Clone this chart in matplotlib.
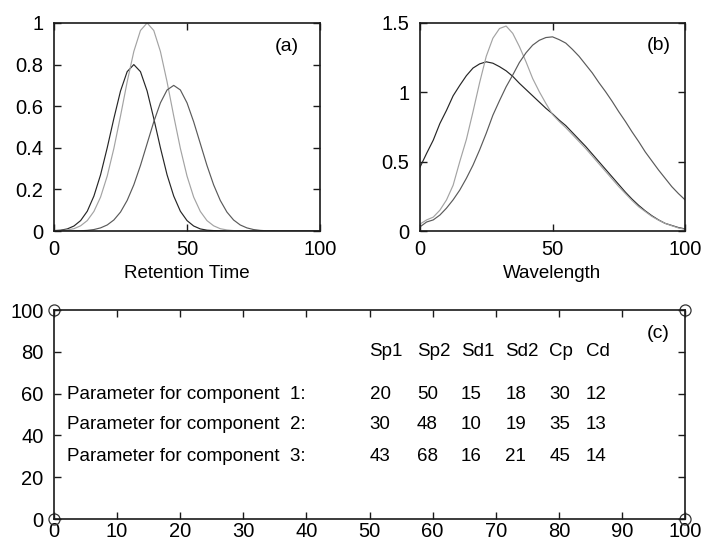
"""
Simulated three-component data: elution profiles, spectra and the
parameter table used to build them.
"""

import numpy as np
import matplotlib.pyplot as plt

plt.rcParams["font.family"] = ["Liberation Sans", "DejaVu Sans"]
plt.rcParams["font.size"] = 13.5

# sampling grid shared by both profile panels
grid = np.arange(0, 100.1, 2.5)

# elution profiles (a)
elution_1 = [0.002, 0.004, 0.010, 0.024, 0.050, 0.095, 0.168, 0.270, 0.400, 0.541,
             0.673, 0.766, 0.800, 0.766, 0.673, 0.541, 0.400, 0.270, 0.168, 0.095,
             0.050, 0.024, 0.010, 0.004, 0.002, 0.001, 0, 0, 0, 0,
             0, 0, 0, 0, 0, 0, 0, 0, 0, 0, 0]
elution_2 = [0.001, 0.002, 0.005, 0.011, 0.025, 0.050, 0.094, 0.163, 0.264, 0.397,
             0.553, 0.717, 0.863, 0.964, 1.000, 0.964, 0.863, 0.717, 0.553, 0.397,
             0.264, 0.163, 0.094, 0.050, 0.025, 0.011, 0.005, 0.002, 0.001, 0,
             0, 0, 0, 0, 0, 0, 0, 0, 0, 0, 0]
elution_3 = [0, 0, 0, 0.001, 0.001, 0.003, 0.007, 0.015, 0.029, 0.053,
             0.091, 0.147, 0.222, 0.315, 0.420, 0.525, 0.616, 0.678, 0.700, 0.678,
             0.616, 0.525, 0.420, 0.315, 0.222, 0.147, 0.091, 0.053, 0.029, 0.015,
             0.007, 0.003, 0.001, 0.001, 0, 0, 0, 0, 0, 0, 0]

# spectra (b)
spectrum_1 = [0.46, 0.56, 0.655, 0.775, 0.87, 0.975, 1.05, 1.12, 1.175, 1.205,
              1.22, 1.21, 1.185, 1.155, 1.115, 1.065, 1.02, 0.975, 0.93, 0.885,
              0.845, 0.80, 0.76, 0.71, 0.66, 0.61, 0.555, 0.50, 0.445, 0.39,
              0.335, 0.28, 0.23, 0.185, 0.145, 0.11, 0.08, 0.055, 0.04, 0.025, 0.015]
spectrum_2 = [0.05, 0.08, 0.10, 0.15, 0.224, 0.33, 0.50, 0.66, 0.86, 1.07,
              1.26, 1.39, 1.46, 1.478, 1.425, 1.33, 1.22, 1.10, 1.005, 0.92,
              0.84, 0.79, 0.745, 0.695, 0.645, 0.595, 0.54, 0.485, 0.43, 0.375,
              0.32, 0.27, 0.22, 0.175, 0.14, 0.105, 0.078, 0.055, 0.038, 0.022, 0.012]
spectrum_3 = [0.03, 0.065, 0.08, 0.115, 0.165, 0.225, 0.295, 0.38, 0.475, 0.585,
              0.705, 0.835, 0.94, 1.04, 1.125, 1.215, 1.285, 1.34, 1.375, 1.395,
              1.40, 1.38, 1.355, 1.31, 1.26, 1.20, 1.14, 1.07, 1.005, 0.935,
              0.86, 0.79, 0.715, 0.645, 0.57, 0.505, 0.44, 0.38, 0.32, 0.27, 0.225]

# parameter table (c)
param_names = ["Sp1", "Sp2", "Sd1", "Sd2", "Cp", "Cd"]
params_1 = [20, 50, 15, 18, 30, 12]
params_2 = [30, 48, 10, 19, 35, 13]
params_3 = [43, 68, 16, 21, 45, 14]

line_colors = ["#262626", "#a3a3a3", "#5a5a5a"]
edge = "#1a1a1a"


def style_box(ax):
    for side in ax.spines.values():
        side.set_linewidth(1.2)
        side.set_color(edge)
    ax.tick_params(direction="in", length=5, width=1, color=edge,
                   top=True, right=True, labelsize=14.5)
    ax.tick_params(axis="x", pad=6.5)
    ax.tick_params(axis="y", pad=7.5)


fig = plt.figure(figsize=(7.06, 5.42), dpi=100)
ax_a = fig.add_axes([0.0765, 0.5738, 0.3768, 0.3838])
ax_b = fig.add_axes([0.5949, 0.5738, 0.3754, 0.3838])
ax_c = fig.add_axes([0.0765, 0.0424, 0.8938, 0.3856])

for y, c in zip([elution_1, elution_2, elution_3], line_colors):
    ax_a.plot(grid, y, color=c, lw=0.85)
ax_a.set_xlim(0, 100)
ax_a.set_ylim(0, 1)
ax_a.set_xticks([0, 50, 100])
ax_a.set_yticks([0, 0.2, 0.4, 0.6, 0.8, 1])
ax_a.set_yticklabels(["0", "0.2", "0.4", "0.6", "0.8", "1"])
ax_a.set_xlabel("Retention Time", fontsize=13.5, labelpad=4)
ax_a.text(87.5, 0.885, "(a)", ha="center", va="center", fontsize=14)
style_box(ax_a)

for y, c in zip([spectrum_1, spectrum_2, spectrum_3], line_colors):
    ax_b.plot(grid, y, color=c, lw=0.85)
ax_b.set_xlim(0, 100)
ax_b.set_ylim(0, 1.5)
ax_b.set_xticks([0, 50, 100])
ax_b.set_yticks([0, 0.5, 1, 1.5])
ax_b.set_yticklabels(["0", "0.5", "1", "1.5"])
ax_b.set_xlabel("Wavelength", fontsize=13.5, labelpad=4)
ax_b.text(90, 1.34, "(b)", ha="center", va="center", fontsize=14)
style_box(ax_b)

# empty frame with corner markers, table written inside
ax_c.plot([0, 0, 100, 100], [0, 100, 0, 100], "o", mfc="none", mec="#333333",
          ms=8, mew=0.9, clip_on=False)
ax_c.set_xlim(0, 100)
ax_c.set_ylim(0, 100)
ax_c.set_xticks(range(0, 101, 10))
ax_c.set_yticks(range(0, 101, 20))
style_box(ax_c)
ax_c.tick_params(axis="x", pad=2.5)

col_x = [50, 57.5, 64.5, 71.5, 78.5, 84.3]
row_y = [59.5, 45, 30]
for x, name in zip(col_x, param_names):
    ax_c.text(x, 80, name, ha="left", va="center", fontsize=13.5)
for i, (row, y) in enumerate(zip([params_1, params_2, params_3], row_y)):
    ax_c.text(2, y, f"Parameter for component  {i + 1}:", ha="left", va="center",
              fontsize=13.5)
    for x, v in zip(col_x, row):
        ax_c.text(x, y, str(v), ha="left", va="center", fontsize=13.5)
ax_c.text(95.7, 89, "(c)", ha="center", va="center", fontsize=14)

fig.savefig("out.png", dpi=100)
